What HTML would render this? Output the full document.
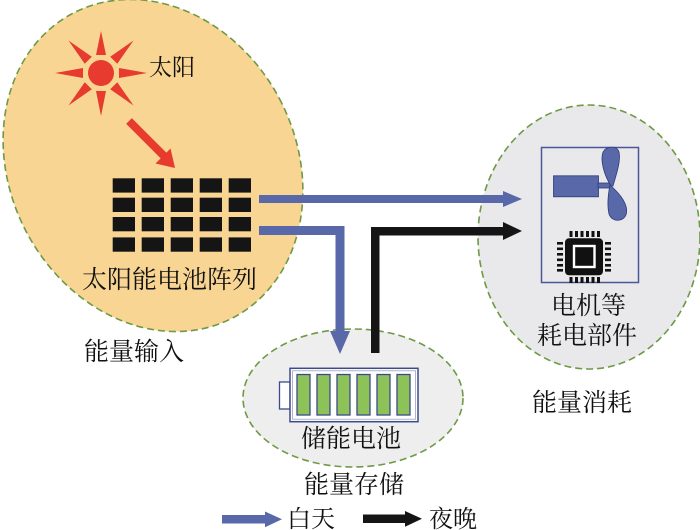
<!DOCTYPE html>
<html><head><meta charset="utf-8"><style>
html,body{margin:0;padding:0;background:#fff;}
svg{display:block;}
text{font-family:"Liberation Serif","Noto Serif CJK SC",serif;fill:#111;}
</style></head><body>
<svg width="700" height="530" viewBox="0 0 700 530" xmlns="http://www.w3.org/2000/svg">
<!-- energy input ellipse -->
<ellipse cx="153" cy="165.5" rx="143" ry="172" transform="rotate(-28 153 165.5)" fill="#f8d592" stroke="#6e9a45" stroke-width="1.6" stroke-dasharray="7 4"/>
<!-- consumption ellipse -->
<ellipse cx="589" cy="237" rx="111" ry="132" fill="#e9e8ea" stroke="#6e9a45" stroke-width="1.6" stroke-dasharray="7 4"/>
<!-- storage ellipse -->
<ellipse cx="353" cy="398" rx="110" ry="69" fill="#efeeee" stroke="#6e9a45" stroke-width="1.6" stroke-dasharray="7 4"/>

<!-- sun -->
<g fill="#e63b2e">
<circle cx="101" cy="73" r="13"/>
<g transform="translate(101 73)">
<polygon points="18,-5 46,0 18,5"/>
<polygon points="18,-5 46,0 18,5" transform="rotate(45)"/>
<polygon points="18,-5 43,0 18,5" transform="rotate(90)"/>
<polygon points="18,-5 46,0 18,5" transform="rotate(135)"/>
<polygon points="18,-5 46,0 18,5" transform="rotate(180)"/>
<polygon points="18,-5 46,0 18,5" transform="rotate(225)"/>
<polygon points="18,-5 42,0 18,5" transform="rotate(270)"/>
<polygon points="18,-5 46,0 18,5" transform="rotate(315)"/>
</g>
<line x1="129" y1="121" x2="165" y2="157" stroke="#e63b2e" stroke-width="8"/>
<polygon points="175,168 170.5,148.5 155.5,163.5"/>
</g>
<text x="149" y="75" font-size="23">太阳</text>

<!-- solar grid -->
<g fill="#151515">
<rect x="112.7" y="178.3" width="22.3" height="14.3"/><rect x="141.7" y="178.3" width="22.3" height="14.3"/><rect x="170.7" y="178.3" width="22.3" height="14.3"/><rect x="199.7" y="178.3" width="22.3" height="14.3"/><rect x="228.7" y="178.3" width="22.3" height="14.3"/>
<rect x="112.7" y="197.7" width="22.3" height="14.3"/><rect x="141.7" y="197.7" width="22.3" height="14.3"/><rect x="170.7" y="197.7" width="22.3" height="14.3"/><rect x="199.7" y="197.7" width="22.3" height="14.3"/><rect x="228.7" y="197.7" width="22.3" height="14.3"/>
<rect x="112.7" y="217" width="22.3" height="14.3"/><rect x="141.7" y="217" width="22.3" height="14.3"/><rect x="170.7" y="217" width="22.3" height="14.3"/><rect x="199.7" y="217" width="22.3" height="14.3"/><rect x="228.7" y="217" width="22.3" height="14.3"/>
<rect x="112.7" y="237.4" width="22.3" height="14.3"/><rect x="141.7" y="237.4" width="22.3" height="14.3"/><rect x="170.7" y="237.4" width="22.3" height="14.3"/><rect x="199.7" y="237.4" width="22.3" height="14.3"/><rect x="228.7" y="237.4" width="22.3" height="14.3"/>
</g>
<text x="82" y="288" font-size="25">太阳能电池阵列</text>
<text x="84" y="360" font-size="25">能量输入</text>

<!-- blue arrows -->
<g fill="#5868a8">
<rect x="259" y="195" width="245" height="8"/>
<polygon points="503,191 522,199 503,207"/>
<polygon points="259,226 344.5,226 344.5,332 335.5,332 335.5,235 259,235"/>
<polygon points="330,331 350,331 340,354"/>
</g>
<!-- black arrow -->
<g fill="#151515">
<polygon points="371,353 371,227 504,227 504,235.5 379.5,235.5 379.5,353"/>
<polygon points="503,222 522,231 503,240"/>
</g>

<!-- battery -->
<rect x="279.5" y="382" width="10.5" height="27" fill="#fff" stroke="#3d4a8a" stroke-width="1.3"/>
<rect x="290" y="368.3" width="128" height="53.4" fill="#fff" stroke="#3d4a8a" stroke-width="1.5"/>
<rect x="292.5" y="370.8" width="123" height="48.4" fill="none" stroke="#9aa0c0" stroke-width="0.8"/>
<g fill="#8cc257" stroke="#3d4a8a" stroke-width="1.3">
<rect x="297" y="374.5" width="13" height="40.5"/>
<rect x="317" y="374.5" width="13" height="40.5"/>
<rect x="337" y="374.5" width="13" height="40.5"/>
<rect x="357" y="374.5" width="13" height="40.5"/>
<rect x="377" y="374.5" width="13" height="40.5"/>
<rect x="397" y="374.5" width="13" height="40.5"/>
</g>
<text x="301" y="447" font-size="25">储能电池</text>
<text x="304" y="493" font-size="25">能量存储</text>

<!-- consumer box -->
<rect x="541.5" y="147.5" width="97" height="135" fill="none" stroke="#4a5898" stroke-width="1.5"/>
<g fill="#5868a8" stroke="#2f3b78" stroke-width="0.8">
<rect x="553.5" y="175.8" width="45" height="21"/>
<rect x="598" y="183" width="12" height="5"/>
<path d="M611,186 C604,175 600,160 603,152 C606,146 617,145 619,152 C621,162 616,175 613,186 Z"/>
<path d="M610,185 C618,192 628,203 626.5,213 C625,222 612,223 609,214 C607,205 608,195 610,185 Z"/>
</g>
<!-- chip -->
<g fill="#111">
<rect x="565" y="238.3" width="38" height="37" rx="4"/>
<rect x="569.5" y="231" width="3" height="6"/><rect x="575" y="231" width="3" height="6"/><rect x="580.5" y="231" width="3" height="6"/><rect x="586" y="231" width="3" height="6"/><rect x="591.5" y="231" width="3" height="6"/><rect x="597" y="231" width="3" height="6"/>
<rect x="569.5" y="277" width="3" height="6"/><rect x="575" y="277" width="3" height="6"/><rect x="580.5" y="277" width="3" height="6"/><rect x="586" y="277" width="3" height="6"/><rect x="591.5" y="277" width="3" height="6"/><rect x="597" y="277" width="3" height="6"/>
<rect x="557" y="242" width="6" height="2.6"/><rect x="557" y="247.5" width="6" height="2.6"/><rect x="557" y="253" width="6" height="2.6"/><rect x="557" y="258.5" width="6" height="2.6"/><rect x="557" y="264" width="6" height="2.6"/><rect x="557" y="269" width="6" height="2.6"/>
<rect x="605" y="242" width="6" height="2.6"/><rect x="605" y="247.5" width="6" height="2.6"/><rect x="605" y="253" width="6" height="2.6"/><rect x="605" y="258.5" width="6" height="2.6"/><rect x="605" y="264" width="6" height="2.6"/><rect x="605" y="269" width="6" height="2.6"/>
</g>
<rect x="574" y="246" width="20.5" height="21" fill="none" stroke="#fff" stroke-width="2.4"/>

<text x="551" y="314" font-size="25">电机等</text>
<text x="537" y="344" font-size="25">耗电部件</text>
<text x="532" y="411" font-size="25">能量消耗</text>

<!-- legend -->
<rect x="222" y="515" width="44" height="8.5" fill="#5868a8"/>
<polygon points="265,511.5 282,519.3 265,527.3" fill="#5868a8"/>
<text x="287" y="527" font-size="24">白天</text>
<rect x="363" y="514.5" width="43" height="8.5" fill="#151515"/>
<polygon points="405,511 422,518.8 405,526.8" fill="#151515"/>
<text x="429" y="527" font-size="24">夜晚</text>
</svg>
</body></html>
